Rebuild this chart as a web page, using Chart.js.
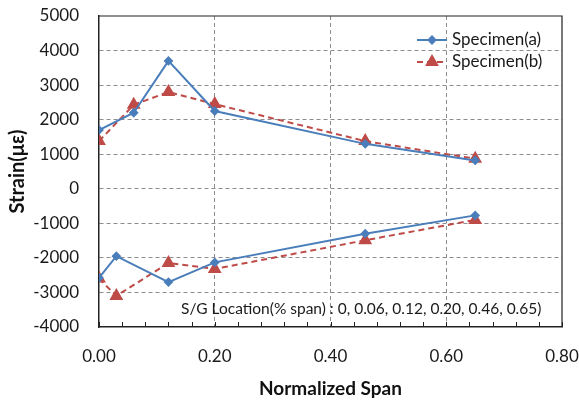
<!DOCTYPE html>
<html>
<head>
<meta charset="utf-8">
<script src="https://cdn.jsdelivr.net/npm/chart.js@4"></script>
<style>
  html, body { margin: 0; padding: 0; background: #fff; }
  #wrap { width: 579px; height: 400px; }
</style>
</head>
<body>
<div id="wrap"><canvas id="chart" width="579" height="400"></canvas></div>
<script>
// data
const upperSpan = [0, 0.06, 0.12, 0.20, 0.46, 0.65];
const lowerSpan = [0, 0.03, 0.12, 0.20, 0.46, 0.65];
const upperA = [1700, 2200, 3700, 2250, 1300, 820];
const upperB = [1380, 2430, 2800, 2450, 1380, 870];
const lowerA = [-2580, -1950, -2700, -2130, -1300, -770];
const lowerB = [-2600, -3100, -2150, -2320, -1490, -900];
const seriesNames = ['Specimen(a)', 'Specimen(b)'];
const xTickLabels = ['0.00', '0.20', '0.40', '0.60', '0.80'];
const yTicks = [-4000, -3000, -2000, -1000, 0, 1000, 2000, 3000, 4000, 5000];
const noteText = 'S/G Location(% span) : 0, 0.06, 0.12, 0.20, 0.46, 0.65)';

const BLUE = '#4a7ebb';
const RED = '#be4b48';
const FONT = "Lato, 'Open Sans', 'DejaVu Sans', sans-serif";

function pts(xs, ys) {
    return xs.map(function (x, i) { return {x: x, y: ys[i]}; });
}

function styleA(data) {
    return {
        data: data, borderColor: BLUE, backgroundColor: BLUE, borderWidth: 2,
        pointStyle: 'rectRot', pointRadius: 3.5, showLine: true, tension: 0
    };
}
function styleB(data) {
    return {
        data: data, borderColor: RED, backgroundColor: RED, borderWidth: 2,
        borderDash: [6, 4], pointStyle: 'triangle', pointRadius: 6, showLine: true, tension: 0
    };
}

const dsA = styleA(pts(upperSpan, upperA)); dsA.label = seriesNames[0];
const dsB = styleB(pts(upperSpan, upperB)); dsB.label = seriesNames[1];
const dsA2 = styleA(pts(lowerSpan, lowerA)); dsA2.label = seriesNames[0];
const dsB2 = styleB(pts(lowerSpan, lowerB)); dsB2.label = seriesNames[1];

// frame, minor ticks, legend and note
const extras = {
    id: 'extras',
    beforeDatasetsDraw: function (chart) {
        const ctx = chart.ctx, a = chart.chartArea, xs = chart.scales.x;
        ctx.save();
        ctx.strokeStyle = '#222';
        ctx.lineWidth = 1.2;
        ctx.beginPath();
        ctx.moveTo(a.left, a.top); ctx.lineTo(a.right, a.top); ctx.lineTo(a.right, a.bottom);
        ctx.stroke();
        ctx.lineWidth = 1;
        for (let v = 0; v <= 0.8001; v += 0.04) {
            const px = Math.round(xs.getPixelForValue(v)) + 0.5;
            ctx.beginPath();
            ctx.moveTo(px, a.bottom); ctx.lineTo(px, a.bottom - 5);
            ctx.stroke();
        }
        ctx.restore();
    },
    afterDraw: function (chart) {
        const ctx = chart.ctx, a = chart.chartArea;
        ctx.save();
        // note
        ctx.fillStyle = '#1a1a1a';
        ctx.font = '15.5px ' + FONT;
        ctx.textBaseline = 'middle';
        ctx.textAlign = 'left';
        ctx.fillText(noteText, a.left + 82, a.bottom - 18);
        // legend
        ctx.font = '17px ' + FONT;
        const sets = [chart.data.datasets[0], chart.data.datasets[1]];
        sets.forEach(function (ds, i) {
            const y = a.top + 24 + i * 22;
            const x0 = a.left + 318, x1 = x0 + 30;
            ctx.strokeStyle = ds.borderColor;
            ctx.lineWidth = 2;
            ctx.setLineDash(ds.borderDash || []);
            ctx.beginPath(); ctx.moveTo(x0, y); ctx.lineTo(x1, y); ctx.stroke();
            ctx.setLineDash([]);
            Chart.helpers.drawPoint(ctx, {
                pointStyle: ds.pointStyle, radius: ds.pointRadius, borderWidth: 1, rotation: 0
            }, (x0 + x1) / 2, y);
            ctx.fillStyle = ds.backgroundColor;
            ctx.fill();
            ctx.fillStyle = '#1a1a1a';
            ctx.fillText(ds.label, x1 + 5, y);
        });
        ctx.restore();
    }
};

new Chart(document.getElementById('chart'), {
    type: 'scatter',
    data: { datasets: [dsA, dsB, dsA2, dsB2] },
    options: {
        responsive: false,
        animation: false,
        layout: { padding: { top: 16, right: 17, left: 0, bottom: 0 } },
        plugins: { legend: { display: false }, tooltip: { enabled: false } },
        scales: {
            x: {
                type: 'linear', min: 0, max: 0.8,
                afterFit: function (s) { s.height = 73; },
                ticks: {
                    stepSize: 0.2, padding: 0, maxRotation: 0, autoSkip: false,
                    color: '#1a1a1a', font: { family: FONT, size: 17 },
                    callback: function (v) { return xTickLabels[Math.round(v / 0.2)]; }
                },
                grid: {
                    drawTicks: true, tickLength: 19, tickColor: 'rgba(0,0,0,0)', lineWidth: 1,
                    color: function (c) {
                        const v = c.tick ? c.tick.value : 0;
                        return (v < 0.01 || v > 0.79) ? 'rgba(0,0,0,0)' : '#8c8c8c';
                    }
                },
                border: { display: true, color: '#222', width: 1.5, dash: [4, 3] },
                title: {
                    display: true, text: 'Normalized Span', color: '#111',
                    font: { family: FONT, size: 19, weight: 'bold' }, padding: { top: 0, bottom: 0 }
                }
            },
            y: {
                min: -4000, max: 5000,
                afterFit: function (s) { s.width = 99; },
                afterBuildTicks: function (s) { s.ticks = yTicks.map(function (v) { return {value: v}; }); },
                ticks: {
                    padding: 0, color: '#1a1a1a', font: { family: FONT, size: 17 },
                    callback: function (v) { return String(v); }
                },
                grid: {
                    drawTicks: true, tickLength: 20, tickColor: 'rgba(0,0,0,0)', lineWidth: 1,
                    color: function (c) {
                        const v = c.tick ? c.tick.value : 0;
                        return (v === 5000 || v === -4000) ? 'rgba(0,0,0,0)' : '#8c8c8c';
                    }
                },
                border: { display: true, color: '#222', width: 1.5, dash: [4, 3] },
                title: {
                    display: true, text: 'Strain(με)', color: '#111',
                    font: { family: FONT, size: 20, weight: 'bold' }, padding: { top: 6, bottom: 0 }
                }
            }
        }
    },
    plugins: [extras]
});
</script>
</body>
</html>
